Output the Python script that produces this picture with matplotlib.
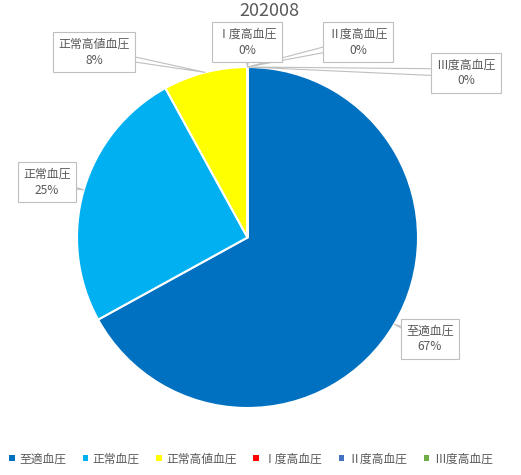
import numpy as np
import matplotlib.pyplot as plt
from matplotlib.patches import Polygon

plt.rcParams['font.family'] = ['Noto Sans CJK JP', 'DejaVu Sans']

# data
title = '202008'
categories = ['至適血圧', '正常血圧', '正常高値血圧', 'Ⅰ度高血圧', 'Ⅱ度高血圧', 'Ⅲ度高血圧']
values = [67, 25, 8, 0, 0, 0]
colors = ['#0070C0', '#00B0F0', '#FFFF00', '#FF0000', '#4472C4', '#70AD47']

# label box centres in pixel coords (x, y from top)
label_pos = [(430, 339), (47, 182), (94, 52), (247, 42), (358, 42), (466, 73)]

W, H = 521, 475
fig = plt.figure(figsize=(W / 100, H / 100), dpi=100)
ax = fig.add_axes([0, 0, 1, 1])

cx, cy, r = 247.5, H - 237.5, 170.5
wedges, _ = ax.pie(values, colors=colors, startangle=90, counterclock=False,
                   center=(cx, cy), radius=r, frame=True,
                   wedgeprops=dict(edgecolor='white', linewidth=1.5))
ax.set_xlim(0, W)
ax.set_ylim(0, H)
ax.axis('off')

total = sum(values)
txt_col = '#595959'
edge_col = '#BFBFBF'
for w, cat, v, (px, py) in zip(wedges, categories, values, label_pos):
    mid = np.deg2rad((w.theta1 + w.theta2) / 2)
    apx = cx + r * np.cos(mid)
    apy = cy + r * np.sin(mid)
    ty = H - py
    # callout pointer
    dx, dy = apx - px, apy - ty
    n = np.hypot(dx, dy)
    ox, oy = -dy / n * 4, dx / n * 4
    ax.add_patch(Polygon([[px + ox, ty + oy], [px - ox, ty - oy], [apx, apy]],
                         closed=True, facecolor='white', edgecolor=edge_col,
                         linewidth=0.8, zorder=3))
    pct = f'{round(v / total * 100)}%'
    ax.text(px, ty, f'{cat}\n{pct}', ha='center', va='center', fontsize=8.6,
            color=txt_col, linespacing=1.3, zorder=4,
            bbox=dict(boxstyle='square,pad=0.45', facecolor='white',
                      edgecolor=edge_col, linewidth=0.8))

ax.text(269, H - 11, title, ha='center', va='center', fontsize=13, color=txt_col)

leg = ax.legend(wedges, categories, loc='center', bbox_to_anchor=(0.482, 1 - 459 / H),
                ncol=6, frameon=False, fontsize=8.5, handlelength=0.45,
                handleheight=0.45, handletextpad=0.4, columnspacing=1.4,
                labelcolor=txt_col)
for h in leg.legend_handles:
    h.set_edgecolor('none')

fig.savefig('out.png', dpi=100)
